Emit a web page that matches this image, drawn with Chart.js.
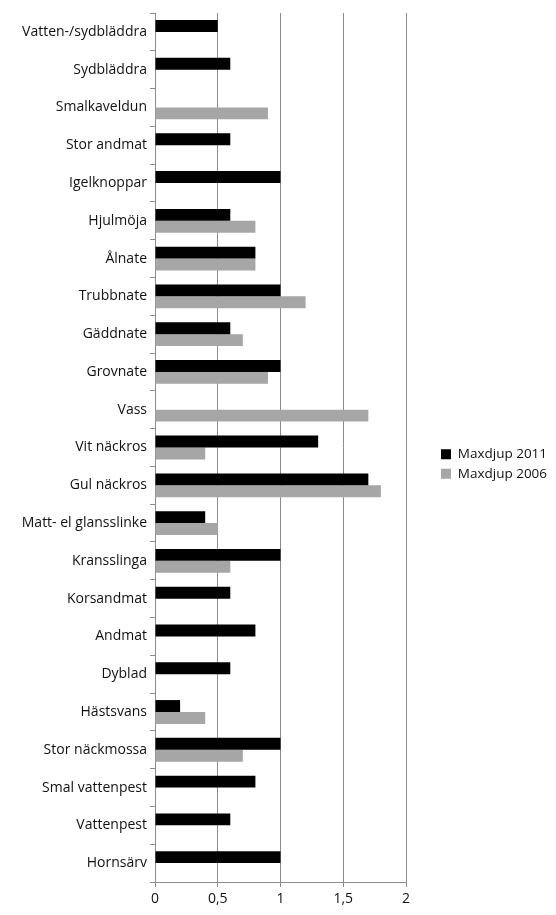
<!DOCTYPE html>
<html>
<head>
<meta charset="utf-8">
<script src="https://cdn.jsdelivr.net/npm/chart.js@4"></script>
<style>
  html, body { margin: 0; padding: 0; background: #fff; }
</style>
</head>
<body>
<canvas id="graf" width="556" height="915"></canvas>
<script>
// Data
const arter = ['Vatten-/sydbläddra', 'Sydbläddra', 'Smalkaveldun', 'Stor andmat', 'Igelknoppar', 'Hjulmöja',
  'Ålnate', 'Trubbnate', 'Gäddnate', 'Grovnate', 'Vass', 'Vit näckros', 'Gul näckros', 'Matt- el glansslinke',
  'Kransslinga', 'Korsandmat', 'Andmat', 'Dyblad', 'Hästsvans', 'Stor näckmossa', 'Smal vattenpest',
  'Vattenpest', 'Hornsärv']
const maxdjup2011 = [0.5, 0.6, null, 0.6, 1.0, 0.6, 0.8, 1.0, 0.6, 1.0, null, 1.3, 1.7, 0.4,
  1.0, 0.6, 0.8, 0.6, 0.2, 1.0, 0.8, 0.6, 1.0]
const maxdjup2006 = [null, null, 0.9, null, null, 0.8, 0.8, 1.2, 0.7, 0.9, 1.7, 0.4, 1.8, 0.5,
  0.6, null, null, null, 0.4, 0.7, null, null, null]
const xTicks = ['0', '0,5', '1', '1,5', '2']

let ctx = document.getElementById('graf').getContext('2d')

Chart.defaults.font.family = '"Open Sans", sans-serif'
Chart.defaults.font.size = 14
Chart.defaults.color = '#111'

// flytta legenden lite åt höger
const legendShift = {
  id: 'legendShift',
  afterLayout(chart) {
    const lg = chart.legend
    const dx = 435 - lg.left
    lg.left += dx; lg.right += dx
  }
}

const data = {
  labels: arter,
  datasets: [{
    label: 'Maxdjup 2011',
    data: maxdjup2011,
    backgroundColor: '#000000',
    borderWidth: 0
  }, {
    label: 'Maxdjup 2006',
    data: maxdjup2006,
    backgroundColor: '#a6a6a6',
    borderWidth: 0
  }]
}

const config = {
  type: 'bar',
  data: data,
  options: {
    responsive: false,
    animation: false,
    indexAxis: 'y',
    categoryPercentage: 0.63,
    barPercentage: 1.0,
    layout: { padding: { top: 13, left: 10, right: 0, bottom: 0 } },
    plugins: {
      legend: {
        position: 'right',
        labels: { boxWidth: 10, boxHeight: 10, padding: 6, font: { size: 13.5 } }
      },
      title: { display: false },
      tooltip: { enabled: false }
    },
    scales: {
      x: {
        min: 0,
        max: 2,
        ticks: {
          stepSize: 0.5,
          padding: 4,
          callback: (v, i) => xTicks[i]
        },
        grid: { color: '#8c8c8c', tickLength: 5, tickColor: '#8c8c8c' },
        border: { color: '#8c8c8c' },
        afterFit(scale) {
          scale.height = 33
          scale.paddingRight = 150
        }
      },
      y: {
        ticks: { padding: 3 },
        grid: { drawOnChartArea: false, tickLength: 5, color: '#8c8c8c' },
        border: { color: '#8c8c8c' },
        afterFit(scale) {
          scale.width = 145
        }
      }
    }
  },
  plugins: [legendShift]
}

const grafic = new Chart(ctx, config)
</script>
</body>
</html>
